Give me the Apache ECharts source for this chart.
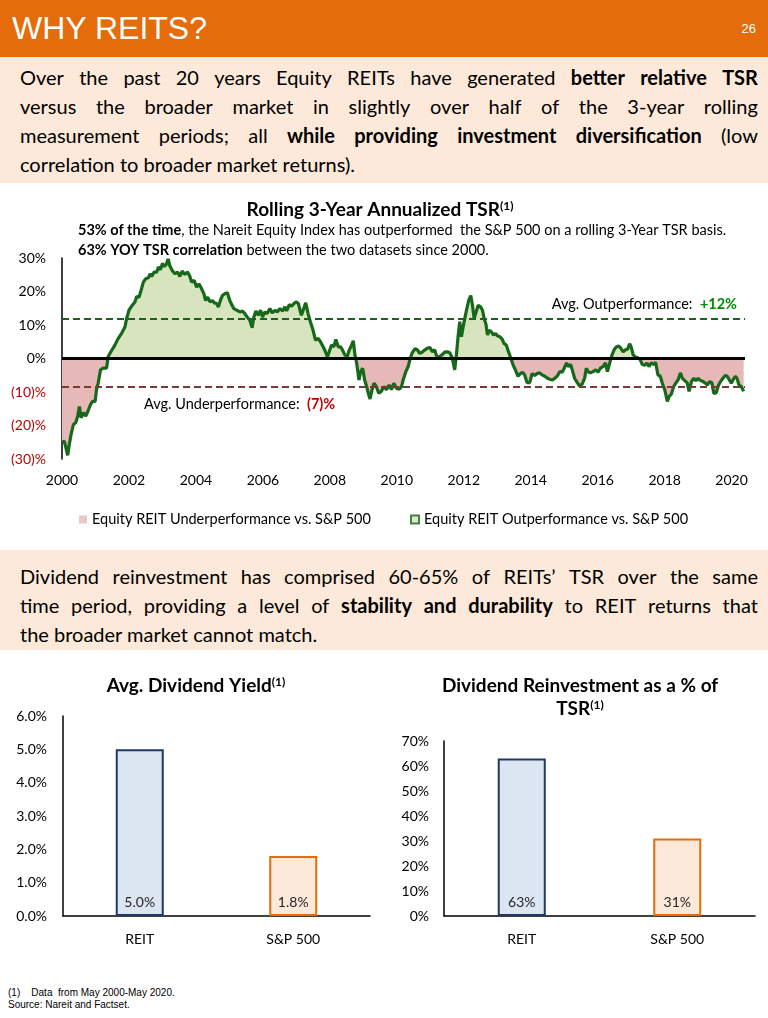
<!DOCTYPE html>
<html><head><meta charset="utf-8">
<script src="https://cdn.jsdelivr.net/npm/echarts@6/dist/echarts.min.js"></script>
<style>
body{margin:0;background:#fff;}
#page{position:relative;width:768px;height:1018px;overflow:hidden;font-family:Lato,'Open Sans',sans-serif;}
#hdr{position:absolute;left:0;top:0;width:768px;height:57px;background:#E46C0A;}
#hdr .t{position:absolute;left:12px;top:0;line-height:57px;font-family:'Liberation Sans',Arial,sans-serif;font-size:32px;color:#fff;}
#hdr .n{position:absolute;right:12px;top:0;line-height:57px;font-size:13px;color:#fff;font-family:'Liberation Sans',Arial,sans-serif;}
.box{position:absolute;left:0;width:768px;background:#FDE9D9;box-sizing:border-box;padding-left:20px;padding-right:10px;font-size:20px;color:#000;}
.box .l{height:29px;line-height:29px;white-space:nowrap;}
.box .l.j{display:flex;justify-content:space-between;}
.box b{font-weight:bold;}
.foot{position:absolute;left:8px;font-family:'Liberation Sans',Arial,sans-serif;font-size:10px;color:#000;white-space:pre;}
#chart{position:absolute;left:0;top:0;width:768px;height:1018px;}
</style></head>
<body><div id="page">
<div id="hdr"><div class="t">WHY REITS?</div><div class="n">26</div></div>
<div class="box" id="box1" style="top:57px;height:126px;padding-top:6px;"></div>
<div class="box" id="box2" style="top:550px;height:100px;padding-top:12px;"></div>
<div class="foot" style="top:987px;">(1)    Data  from May 2000-May 2020.</div>
<div class="foot" style="top:999px;">Source: Nareit and Factset.</div>
<div id="chart"></div>
</div>
<script>
// ---------------- data ----------------
const tsrYears = [
 2000.00,2000.07,2000.12,2000.17,2000.21,2000.27,2000.34,2000.41,2000.47,2000.52,2000.57,2000.64,2000.71,2000.79,2000.85,2000.91,2000.99,
 2001.03,2001.08,2001.15,2001.23,2001.33,2001.38,2001.46,2001.58,2001.68,2001.78,2001.88,2001.93,
 2002.00,2002.10,2002.18,2002.23,2002.30,2002.36,2002.43,2002.50,2002.58,2002.63,2002.68,2002.75,2002.83,2002.88,2002.94,
 2003.00,2003.05,2003.11,2003.17,2003.22,2003.29,2003.37,2003.45,2003.52,2003.59,2003.67,2003.75,2003.82,2003.87,2003.95,
 2004.02,2004.09,2004.17,2004.24,2004.29,2004.35,2004.42,2004.49,2004.55,2004.62,2004.67,2004.74,2004.80,2004.87,2004.94,
 2005.01,2005.08,2005.13,2005.19,2005.26,2005.33,2005.39,2005.46,2005.53,2005.61,2005.68,2005.73,2005.79,2005.86,2005.93,2005.99,
 2006.06,2006.13,2006.21,2006.28,2006.36,2006.43,2006.51,2006.59,2006.66,2006.71,2006.79,2006.86,2006.93,2006.99,
 2007.06,2007.11,2007.15,2007.22,2007.28,2007.35,2007.42,2007.50,2007.57,2007.65,2007.72,2007.80,2007.87,2007.93,2007.98,
 2008.05,2008.12,2008.18,2008.25,2008.32,2008.38,2008.45,2008.52,2008.58,2008.65,2008.70,2008.75,2008.80,2008.87,2008.92,2008.98,
 2009.04,2009.10,2009.15,2009.20,2009.26,2009.32,2009.39,2009.46,2009.54,2009.61,2009.69,2009.77,2009.84,2009.91,2009.99,
 2010.07,2010.14,2010.19,2010.27,2010.34,2010.39,2010.46,2010.54,2010.61,2010.69,2010.76,2010.84,2010.92,2010.99,
 2011.06,2011.13,2011.20,2011.28,2011.35,2011.43,2011.51,2011.58,2011.65,2011.73,2011.78,2011.83,2011.88,2011.93,2011.98,
 2012.03,2012.08,2012.15,2012.21,2012.26,2012.31,2012.37,2012.43,2012.50,2012.56,2012.61,2012.66,2012.71,2012.76,2012.83,2012.89,2012.95,
 2013.01,2013.08,2013.15,2013.20,2013.27,2013.32,2013.40,2013.47,2013.54,2013.62,2013.69,2013.75,2013.82,2013.89,2013.97,
 2014.04,2014.12,2014.19,2014.27,2014.34,2014.42,2014.50,2014.57,2014.65,2014.72,2014.80,2014.87,2014.94,
 2015.00,2015.07,2015.12,2015.19,2015.24,2015.31,2015.39,2015.46,2015.54,2015.61,2015.66,2015.71,2015.78,2015.86,2015.94,
 2016.01,2016.08,2016.16,2016.23,2016.29,2016.36,2016.43,2016.49,2016.56,2016.63,2016.69,2016.76,2016.83,2016.89,2016.96,
 2017.01,2017.06,2017.13,2017.20,2017.27,2017.33,2017.40,2017.47,2017.53,2017.60,2017.67,2017.73,2017.80,2017.87,2017.93,
 2018.00,2018.05,2018.08,2018.13,2018.20,2018.27,2018.33,2018.40,2018.47,2018.53,2018.60,2018.67,2018.73,2018.80,2018.87,2018.93,
 2019.00,2019.07,2019.15,2019.22,2019.28,2019.34,2019.41,2019.47,2019.54,2019.61,2019.67,2019.74,2019.81,2019.87,2019.92,2019.99,
 2020.04,2020.11,2020.16,2020.22,2020.29,2020.36
];
const tsrValues = [
 -25.0,-24.7,-25.2,-28.9,-26.1,-22.7,-19.7,-19.2,-17.2,-14.3,-17.7,-16.2,-17.2,-15.3,-13.8,-12.8,-12.8,
 -9.3,-7.4,-3.4,-2.9,-2.9,0.6,2.0,4.0,6.0,7.5,9.4,11.9,
 14.4,15.9,16.9,18.5,18.3,20.3,22.8,23.8,24.1,25.3,24.5,25.8,25.8,27.3,26.5,
 28.4,27.5,28.0,29.7,27.7,26.3,25.3,25.8,24.5,26.1,25.1,25.8,24.5,22.8,23.3,
 21.3,22.3,20.8,19.3,17.3,18.3,16.9,17.3,16.6,16.4,15.4,17.6,18.9,19.4,19.6,
 17.3,15.9,14.9,14.6,14.2,13.9,14.2,13.4,12.4,11.4,9.2,12.4,14.2,12.9,14.4,12.4,
 13.9,13.4,14.9,13.6,14.4,13.9,14.9,14.2,15.4,14.2,16.1,15.6,16.4,16.9,
 16.4,16.9,12.9,14.9,16.6,13.4,10.9,8.4,5.5,6.0,5.0,3.5,2.0,0.5,2.0,
 4.0,3.5,5.7,3.5,3.5,2.5,1.0,0.7,2.5,4.0,5.3,1.0,-1.3,-6.4,-3.9,-2.9,
 -6.4,-8.4,-10.4,-12.1,-9.3,-7.4,-8.4,-10.4,-9.8,-8.4,-9.3,-7.9,-9.3,-7.4,-8.9,
 -9.2,-8.4,-6.4,-3.9,-2.4,-0.4,1.7,2.9,2.6,1.5,1.9,2.6,3.1,3.3,
 2.0,2.6,0.4,0.6,1.1,1.9,2.0,1.7,0.4,-3.4,1.1,6.5,11.0,6.5,9.4,
 11.9,14.4,17.4,18.8,15.9,11.9,13.9,15.9,15.4,14.4,11.9,10.4,7.0,8.4,7.9,7.0,7.5,
 6.7,6.5,5.7,4.5,4.0,2.5,0.2,-1.8,-3.4,-5.3,-4.5,-4.1,-4.9,-7.2,-7.2,
 -4.5,-5.1,-4.5,-4.3,-4.9,-5.3,-5.9,-6.2,-6.4,-5.9,-5.1,-3.9,-4.1,
 -2.9,-1.3,-2.4,-1.8,-3.4,-5.9,-7.2,-8.2,-7.6,-5.9,-2.9,-3.9,-4.3,-3.9,-3.4,
 -4.1,-2.9,-2.4,-1.3,-3.9,-1.3,1.1,2.6,3.5,3.7,3.1,2.0,2.6,2.8,4.4,
 3.1,1.1,0.4,0.2,-0.3,-1.8,-2.0,-1.4,-2.4,-1.3,-1.8,-1.1,-4.9,-5.3,-7.4,
 -9.2,-11.4,-12.8,-11.4,-10.6,-8.4,-7.4,-6.4,-4.3,-5.9,-6.6,-7.2,-9.8,-6.9,-5.9,-6.6,
 -5.9,-6.6,-6.9,-7.4,-7.9,-6.9,-7.2,-10.4,-10.2,-7.9,-6.9,-5.9,-5.1,-5.3,-5.1,-7.4,
 -6.4,-5.3,-5.9,-7.9,-8.4,-9.8
];
const avgOutperformance = 12;      // dashed green reference line
const avgUnderperformanceLine = -8.5; // dashed red reference line (as drawn)
const yieldCategories = ['REIT', 'S&P 500'];
const yieldValues = [5.0, 1.8];
const reinvCategories = ['REIT', 'S&P 500'];
const reinvValues = [63, 31];
const legendNames = ['Equity REIT Underperformance vs. S&P 500', 'Equity REIT Outperformance vs. S&P 500'];

// ---------------- text boxes ----------------
const box1Lines = [
 [['Over the past 20 years Equity REITs have generated ',0],['better relative TSR',1]],
 [['versus the broader market in slightly over half of the 3-year rolling',0]],
 [['measurement periods; all ',0],['while providing investment diversification',1],[' (low',0]],
 [['correlation to broader market returns).',0]]
];
const box2Lines = [
 [['Dividend reinvestment has comprised 60-65% of REITs\u2019 TSR over the same',0]],
 [['time period, providing a level of ',0],['stability and durability',1],[' to REIT returns that',0]],
 [['the broader market cannot match.',0]]
];
function renderBox(el, lines){
  lines.forEach((segs, li) => {
    const d = document.createElement('div');
    const last = li === lines.length - 1;
    d.className = 'l' + (last ? '' : ' j');
    segs.forEach(([txt, bold]) => {
      if (last) {
        const s = document.createElement(bold ? 'b' : 'span');
        s.textContent = txt; d.appendChild(s);
      } else {
        txt.split(' ').filter(w => w.length).forEach(w => {
          const s = document.createElement(bold ? 'b' : 'span');
          s.textContent = w; d.appendChild(s);
        });
      }
    });
    el.appendChild(d);
  });
}
renderBox(document.getElementById('box1'), box1Lines);
renderBox(document.getElementById('box2'), box2Lines);

// ---------------- chart ----------------
const F = 'Lato, "Open Sans", sans-serif';
const RED_FILL = '#E6B9B8', GREEN_FILL = '#D7E4BD', LINE_GREEN = '#16681A', RED_TXT = '#C00000';
const n = Math.min(tsrYears.length, tsrValues.length);
const tsrData = [];
for (let i = 0; i < n; i++) tsrData.push([tsrYears[i], tsrValues[i]]);

const barStyles = [
  {color:'#DCE6F2', borderColor:'#1F3864', borderWidth:2},
  {color:'#FDE9D9', borderColor:'#E46C0A', borderWidth:2}
];
const axisBase = {
  axisTick:{show:false}, splitLine:{show:false},
  axisLine:{show:true, lineStyle:{color:'#000', width:1.5}}
};
const supTitle = (x, y, main) => ({type:'text', x, y, style:{text:'{t|' + main + '}{s|(1)}', align:'center', verticalAlign:'middle',
  rich:{t:{fontSize:19, fontWeight:'bold', fontFamily:F, fill:'#000'}, s:{fontSize:12, fontWeight:'bold', fontFamily:F, fill:'#000', verticalAlign:'top'}}}});

const chart = echarts.init(document.getElementById('chart'), null, {renderer:'canvas'});
chart.setOption({
  animation:false,
  textStyle:{fontFamily:F},
  grid:[
    {left:62, top:258, width:683, height:201},
    {left:63, top:716, width:307, height:200},
    {left:444, top:741, width:311, height:175}
  ],
  xAxis:[
    {type:'value', gridIndex:0, min:2000, max:2020.4, interval:2,
     axisLine:{show:false}, axisTick:{show:false}, splitLine:{show:false},
     axisLabel:{fontSize:14, color:'#000', fontFamily:F, margin:14, showMaxLabel:false,
       formatter:v => (Math.round(v) === v && v % 2 === 0) ? String(v) : ''}},
    Object.assign({type:'category', gridIndex:1, data:yieldCategories,
      axisLabel:{fontSize:14, color:'#000', fontFamily:F, margin:16}}, axisBase),
    Object.assign({type:'category', gridIndex:2, data:reinvCategories,
      axisLabel:{fontSize:14, color:'#000', fontFamily:F, margin:16}}, axisBase)
  ],
  yAxis:[
    Object.assign({type:'value', gridIndex:0, min:-30, max:30, interval:10,
      axisLabel:{fontSize:14, fontFamily:F, margin:16,
        color:v => parseFloat(v) < 0 ? RED_TXT : '#000',
        formatter:v => v < 0 ? '(' + (-v) + ')%' : v + '%'}}, axisBase),
    Object.assign({type:'value', gridIndex:1, min:0, max:6, interval:1,
      axisLabel:{fontSize:14, color:'#000', fontFamily:F, margin:16, formatter:v => v.toFixed(1) + '%'}}, axisBase),
    Object.assign({type:'value', gridIndex:2, min:0, max:70, interval:10,
      axisLabel:{fontSize:14, color:'#000', fontFamily:F, margin:15, formatter:v => v + '%'}}, axisBase)
  ],
  visualMap:[{type:'piecewise', show:false, seriesIndex:0, dimension:1,
    pieces:[{gte:-100, lt:0, color:RED_FILL}, {gte:0, lte:100, color:GREEN_FILL}],
    outOfRange:{color:GREEN_FILL}}],
  legend:[
    {left:74, top:507, itemWidth:8, itemHeight:8, icon:'rect', selectedMode:false, data:[legendNames[0]],
     textStyle:{fontSize:14.5, color:'#000', fontFamily:F}},
    {left:405, top:507, itemWidth:8, itemHeight:8, icon:'rect', selectedMode:false, data:[legendNames[1]],
     textStyle:{fontSize:14.5, color:'#000', fontFamily:F}}
  ],
  series:[
    {type:'line', xAxisIndex:0, yAxisIndex:0, data:tsrData, symbol:'none', silent:true, z:2,
     lineStyle:{width:0, opacity:0}, areaStyle:{opacity:1},
     markLine:{silent:true, symbol:['none','none'], label:{show:false},
       data:[
         {yAxis:avgOutperformance, lineStyle:{color:'#1E5E1E', width:2, type:[7,4]}},
         {yAxis:avgUnderperformanceLine, lineStyle:{color:'#7A3A3A', width:2, type:[7,4]}},
         {yAxis:0, lineStyle:{color:'#000', width:3, type:'solid'}}
       ]}},
    {type:'line', xAxisIndex:0, yAxisIndex:0, data:tsrData, symbol:'none', silent:true, z:3,
     lineStyle:{width:3.2, color:LINE_GREEN}},
    {type:'scatter', name:legendNames[0], xAxisIndex:0, yAxisIndex:0, data:[], itemStyle:{color:RED_FILL}},
    {type:'scatter', name:legendNames[1], xAxisIndex:0, yAxisIndex:0, data:[], itemStyle:{color:GREEN_FILL, borderColor:LINE_GREEN, borderWidth:1}},
    {type:'bar', xAxisIndex:1, yAxisIndex:1, barWidth:48, silent:true,
     data:yieldValues.map((v,i) => ({value:v, itemStyle:barStyles[i]})),
     label:{show:true, position:'insideBottom', distance:7, fontSize:14, color:'#262626', fontFamily:F,
       formatter:p => p.value.toFixed(1) + '%'}},
    {type:'bar', xAxisIndex:2, yAxisIndex:2, barWidth:48, silent:true,
     data:reinvValues.map((v,i) => ({value:v, itemStyle:barStyles[i]})),
     label:{show:true, position:'insideBottom', distance:7, fontSize:14, color:'#262626', fontFamily:F,
       formatter:p => p.value + '%'}}
  ],
  graphic:[
    supTitle(380, 210, 'Rolling 3-Year Annualized TSR'),
    {type:'text', x:78, y:230, style:{text:'{b|53% of the time}{n|, the Nareit Equity Index has outperformed  the S&P 500 on a rolling 3-Year TSR basis.}', align:'left', verticalAlign:'middle',
      rich:{b:{fontSize:14.5, fontWeight:'bold', fontFamily:F, fill:'#000'}, n:{fontSize:14.5, fontFamily:F, fill:'#000'}}}},
    {type:'text', x:78, y:250, style:{text:'{b|63% YOY TSR correlation}{n| between the two datasets since 2000.}', align:'left', verticalAlign:'middle',
      rich:{b:{fontSize:14.5, fontWeight:'bold', fontFamily:F, fill:'#000'}, n:{fontSize:14.5, fontFamily:F, fill:'#000'}}}},
    {type:'text', x:737, y:304, style:{text:'{n|Avg. Outperformance:  }{g|+12%}', align:'right', verticalAlign:'middle',
      rich:{n:{fontSize:14.5, fontFamily:F, fill:'#000'}, g:{fontSize:14.5, fontWeight:'bold', fontFamily:F, fill:'#008A00'}}}},
    {type:'text', x:144, y:404, style:{text:'{n|Avg. Underperformance:  }{r|(7)%}', align:'left', verticalAlign:'middle',
      rich:{n:{fontSize:14.5, fontFamily:F, fill:'#000'}, r:{fontSize:14.5, fontWeight:'bold', fontFamily:F, fill:RED_TXT}}}},
    supTitle(196, 686, 'Avg. Dividend Yield'),
    {type:'text', x:580, y:686, style:{text:'Dividend Reinvestment as a % of', align:'center', verticalAlign:'middle',
      fontSize:19, fontWeight:'bold', fontFamily:F, fill:'#000'}},
    supTitle(580, 709, 'TSR')
  ]
});
</script>
</body></html>
